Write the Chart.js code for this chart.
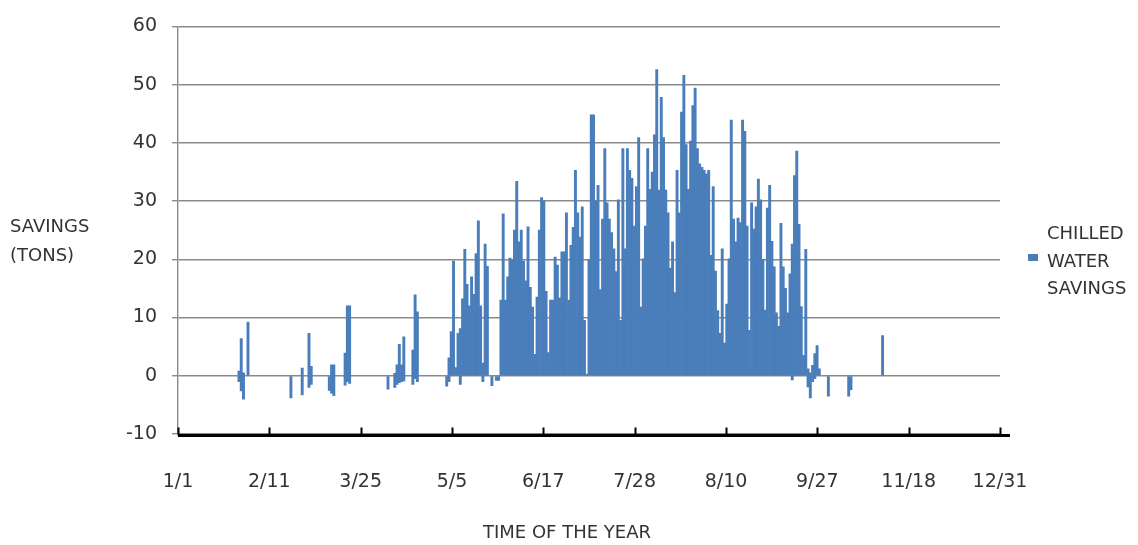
<!DOCTYPE html>
<html>
<head>
<meta charset="utf-8">
<script src="https://cdn.jsdelivr.net/npm/chart.js@4.4.1/dist/chart.umd.min.js"></script>
<style>
  html, body { margin: 0; padding: 0; background: #fff; }
  #wrap { position: relative; width: 1138px; height: 545px; overflow: hidden; }
  #c { position: absolute; left: 0; top: 0; }
  .lbl { position: absolute; font-family: "DejaVu Sans", sans-serif; color: #333; font-size: 18px; line-height: 29px; white-space: nowrap; }
  #ytitle { left: 10px; top: 211px; }
  #xtitle { left: 467px; width: 200px; text-align: center; top: 517px; }
  #legtext { left: 1047px; top: 219px; line-height: 27.5px; }
  #legbox { position: absolute; left: 1028px; top: 254px; width: 10px; height: 7px; background: #4a7ebb; }
</style>
</head>
<body>
<div id="wrap">
  <canvas id="c" width="1138" height="545"></canvas>
  <div id="ytitle" class="lbl">SAVINGS<br>(TONS)</div>
  <div id="xtitle" class="lbl">TIME OF THE YEAR</div>
  <div id="legbox"></div>
  <div id="legtext" class="lbl">CHILLED<br>WATER<br>SAVINGS</div>
</div>
<script>
// ---- DATA (day index 0 = 1/1) ----
const tickDays   = [0, 40.44, 80.89, 121.33, 161.78, 202.22, 242.67, 283.11, 323.56, 364];
const tickLabels = ['1/1', '2/11', '3/25', '5/5', '6/17', '7/28', '8/10', '9/27', '11/18', '12/31'];

const dayIndex = [
  27, 28, 29, 31, 50, 55, 58, 59, 67, 68, 69, 74, 75, 76, 93, 96, 97, 98, 99, 100, 104, 105, 106,
  119, 120, 121, 122, 123, 124, 125, 126, 127, 128, 129, 130, 131, 132, 133, 134, 135, 136, 137,
  139, 141, 142,
  143, 144, 145, 146, 147, 148, 149, 150, 151, 152,
  153, 154, 155, 156, 157, 158, 159, 160, 161, 162,
  163, 164, 165, 166, 167, 168, 169, 170, 171, 172,
  173, 174, 175, 176, 177, 178, 179, 180, 181, 182,
  183, 184, 185, 186, 187, 188, 189, 190, 191, 192,
  193, 194, 195, 196, 197, 198, 199, 200, 201, 202,
  203, 204, 205, 206, 207, 208, 209, 210, 211, 212,
  213, 214, 215, 216, 217, 218, 219, 220, 221, 222,
  223, 224, 225, 226, 227, 228, 229, 230, 231, 232,
  233, 234, 235, 236, 237, 238, 239, 240, 241, 242,
  243, 244, 245, 246, 247, 248, 249, 250, 251, 252,
  253, 254, 255, 256, 257, 258, 259, 260, 261, 262,
  263, 264, 265, 266, 267, 268, 269, 270, 271, 272,
  273, 274, 275, 276, 277, 278,
  279, 280, 281, 282, 283, 284,
  288, 297, 298, 312
];

const lowValues = [
  -1, -2.6, -4, 0, -3.8, -3.3, -2, -1.5, -2.5, -3, -3.4, -1.6, -1, -1.3, -2.3, -2, -1.5, -1.2, -1, -0.9, -1.5, -0.5, -1,
  -1.8, -1, 0, 0, 0, 0, -1.5, 0, 0, 0, 0, 0, 0, 0, 0, 0, -1, 0, 0,
  -1.7, -0.8, -0.8,
  0, 0, 0, 0, 0, 0, 0, 0, 0, 0,
  0, 0, 0, 0, 0, 0, 0, 0, 0, 0,
  0, 0, 0, 0, 0, 0, 0, 0, 0, 0,
  0, 0, 0, 0, 0, 0, 0, 0, 0, 0,
  0, 0, 0, 0, 0, 0, 0, 0, 0, 0,
  0, 0, 0, 0, 0, 0, 0, 0, 0, 0,
  0, 0, 0, 0, 0, 0, 0, 0, 0, 0,
  0, 0, 0, 0, 0, 0, 0, 0, 0, 0,
  0, 0, 0, 0, 0, 0, 0, 0, 0, 0,
  0, 0, 0, 0, 0, 0, 0, 0, 0, 0,
  0, 0, 0, 0, 0, 0, 0, 0, 0, 0,
  0, 0, 0, 0, 0, 0, 0, 0, 0, 0,
  0, 0, 0, 0, 0, 0, 0, 0, 0, -0.7,
  0, 0, 0, 0, 0, 0,
  -1.9, -3.8, -1, -0.5, 0, 0,
  -3.5, -3.5, -2.4, 0
];

const highValues = [
  0.8, 6.4, 0.5, 9.2, 0, 1.3, 7.3, 1.6, 0, 1.9, 1.9, 3.9, 12, 12, 0, 0.4, 1.9, 5.4, 1.9, 6.7, 4.4, 13.9, 11,
  0, 3.1, 7.6, 19.7, 1.4, 7.3, 8.1, 13.2, 21.7, 15.7, 12, 17, 14, 21, 26.6, 12, 2.2, 22.6, 18.8,
  0, 0, 0,
  13, 27.8, 13, 17, 20.2, 20, 25, 33.4, 23, 25,
  19.7, 16.3, 25.6, 15.2, 11.8, 3.7, 13.5, 25, 30.6, 30,
  14.5, 4, 13, 13, 20.4, 19, 13.4, 21.3, 21.3, 28,
  13, 22.4, 25.5, 35.3, 28, 23.8, 29, 9.5, 0.3, 20,
  44.8, 44.8, 30, 32.7, 14.8, 26.9, 39, 29.7, 26.9, 24.6,
  21.8, 17.9, 30.2, 9.5, 39, 21.8, 39, 35.3, 33.9, 25.7,
  32.5, 40.9, 11.8, 20.1, 25.7, 39, 32, 35, 41.4, 52.6,
  31.9, 47.8, 40.9, 31.9, 28, 18.5, 23, 14.3, 35.3, 28,
  45.3, 51.6, 39.7, 32, 40.3, 46.4, 49.4, 39, 36.4, 35.8,
  35.3, 34.7, 35.3, 20.7, 32.5, 18, 11.2, 7.3, 21.8, 5.6,
  12.3, 20.1, 43.9, 26.9, 23, 27.1, 26.3, 43.9, 42, 25.7,
  7.8, 29.7, 25.2, 29, 33.8, 30.2, 20, 11.3, 28.8, 32.7,
  23.1, 18.7, 10.8, 8.5, 26.2, 18.7, 15, 10.8, 17.5, 22.6,
  34.4, 38.6, 26, 11.9, 3.5, 21.7,
  1.2, 0.5, 1.8, 3.8, 5.2, 1.2,
  0, 0, 0, 6.9
];

const barData = dayIndex.map((d, i) => ({ x: d, y: [lowValues[i], highValues[i]] }));

const FONT = '"DejaVu Sans", sans-serif';
const CHART_LEFT = 178, CHART_TOP = 20, CHART_BOTTOM = 434, CHART_RIGHT = 1000;

const axisPlugin = {
  id: 'excelAxis',
  afterDraw(chart) {
    const ctx = chart.ctx;
    const xs = chart.scales.x;
    const y = chart.chartArea.bottom + 1.5;
    ctx.save();
    ctx.strokeStyle = '#000';
    ctx.lineWidth = 3;
    ctx.beginPath();
    ctx.moveTo(chart.chartArea.left, y);
    ctx.lineTo(chart.chartArea.right + 10, y);
    ctx.stroke();
    ctx.lineWidth = 2;
    tickDays.forEach(v => {
      const px = Math.round(xs.getPixelForValue(v)) + 0.5;
      ctx.beginPath();
      ctx.moveTo(px, y - 8);
      ctx.lineTo(px, y);
      ctx.stroke();
    });
    ctx.restore();
  }
};

new Chart(document.getElementById('c'), {
  type: 'bar',
  data: {
    datasets: [{
      label: 'CHILLED WATER SAVINGS',
      data: barData,
      backgroundColor: '#4a7ebb',
      borderWidth: 0,
      barPercentage: 1,
      categoryPercentage: 1
    }]
  },
  options: {
    responsive: false,
    devicePixelRatio: 1,
    animation: false,
    layout: { padding: { top: CHART_TOP, right: 1138 - CHART_RIGHT, left: 0, bottom: 0 } },
    plugins: { legend: { display: false }, tooltip: { enabled: false } },
    scales: {
      x: {
        type: 'linear',
        min: 0,
        max: 364,
        offset: false,
        grid: { display: false, drawTicks: false },
        border: { display: false },
        afterBuildTicks: s => { s.ticks = tickDays.map(v => ({ value: v })); },
        afterFit: s => { s.height = 545 - CHART_BOTTOM; },
        ticks: {
          autoSkip: false,
          maxRotation: 0,
          padding: 37,
          color: '#333',
          font: { family: FONT, size: 19 },
          callback: (v, i) => tickLabels[i]
        },
        title: { display: false }
      },
      y: {
        min: -10,
        max: 60,
        afterFit: s => { s.width = CHART_LEFT; },
        ticks: {
          stepSize: 10,
          padding: 15,
          color: '#333',
          font: { family: FONT, size: 19 }
        },
        grid: { color: '#8a8a8a', lineWidth: 1.4, tickLength: 6, tickColor: '#8a8a8a' },
        border: { color: '#8a8a8a', width: 1.4 }
      }
    }
  },
  plugins: [axisPlugin]
});
</script>
</body>
</html>
